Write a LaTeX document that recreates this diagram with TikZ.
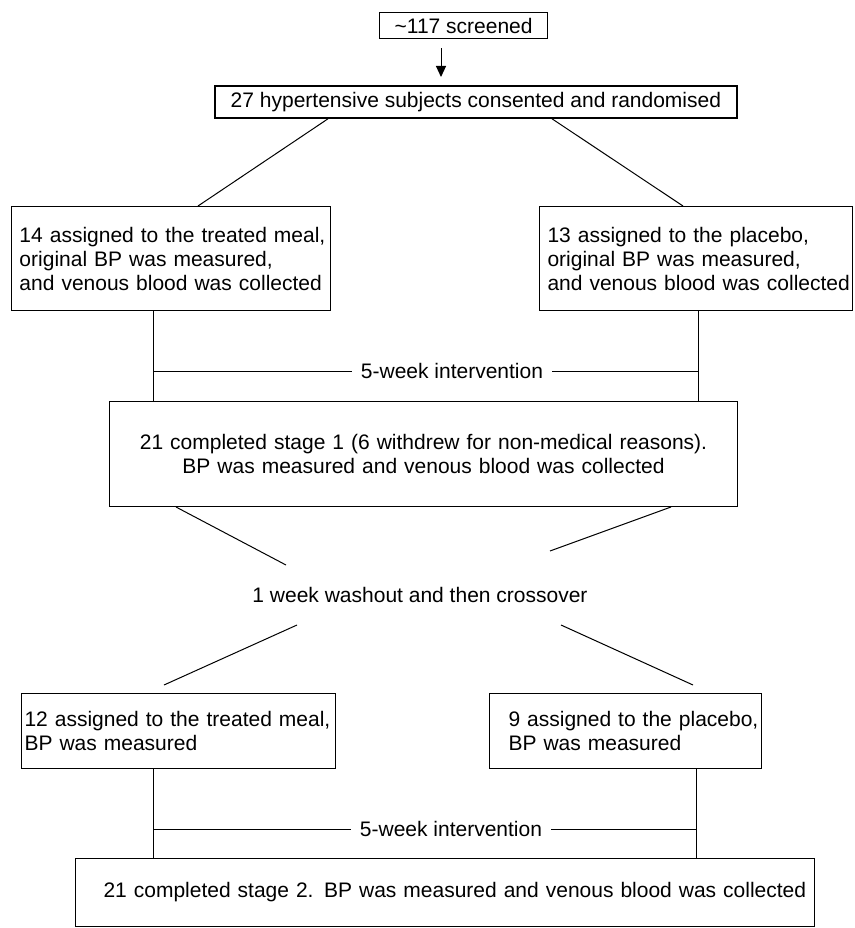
\documentclass[tikz,border=0pt]{standalone}
\usepackage{fontspec}
\setmainfont{Liberation Sans}
\usetikzlibrary{arrows.meta}
\newcommand\oneline[1]{\mbox{#1}}
\tikzset{
  box/.style={draw, line width=1pt, rectangle, anchor=north west, inner ysep=0pt},
  lbox/.style={box, align=left},
  cbox/.style={box, align=center},
  conn/.style={line width=1pt},
  lbl/.style={inner xsep=9pt, inner ysep=0pt},
}
\begin{document}
\begin{tikzpicture}[x=1pt, y=-1pt, font=\fontsize{21}{24}\selectfont]
\useasboundingbox (0,0) rectangle (854,928);

% boxes
\node[cbox, line width=1.2pt, minimum width=168pt, minimum height=26pt] (scr) at (379,12) {\textasciitilde117 screened};
\node[cbox, line width=1.8pt, minimum width=522pt, minimum height=32pt] (b27) at (214,85) {27 hypertensive subjects consented and randomised};
\node[lbox, minimum width=319pt, minimum height=104pt, inner xsep=8pt, text width=303pt] (b14) at (11,206)
  {\oneline{14 assigned to the treated meal,}\\\oneline{original BP was measured,}\\\oneline{and venous blood was collected}};
\node[lbox, minimum width=313pt, minimum height=104pt, inner xsep=8pt, text width=297pt] (b13) at (539,206)
  {\oneline{13 assigned to the placebo,}\\\oneline{original BP was measured,}\\\oneline{and venous blood was collected}};
\node[cbox, minimum width=628pt, minimum height=105pt, text width=610pt, inner xsep=9pt] (b21) at (109,401)
  {21 completed stage 1 (6 withdrew for non-medical reasons).\\BP was measured and venous blood was collected};
\node[lbox, minimum width=314pt, minimum height=75pt, inner xsep=3pt, text width=308pt] (b12) at (21,693)
  {\oneline{12 assigned to the treated meal,}\\\oneline{BP was measured}};
\node[lbox, minimum width=272pt, minimum height=75pt, inner xsep=19pt, text width=234pt] (b9) at (489,693)
  {\oneline{9 assigned to the placebo,}\\\oneline{BP was measured}};
\node[lbox, minimum width=739pt, minimum height=68pt, inner xsep=28pt, text width=683pt] (bst2) at (75,858)
  {\oneline{21 completed stage 2. BP was measured and venous blood was collected}};

% labels
\node[lbl] (iv1) at (452,371) {5-week intervention};
\node[lbl] (wo) at (420,595) {1 week washout and then crossover};
\node[lbl] (iv2) at (451,829) {5-week intervention};

% coordinates
\coordinate (xl1) at (153,0);
\coordinate (xr1) at (698,0);
\coordinate (xl2) at (153,0);
\coordinate (xr2) at (696,0);
\coordinate (d1) at (286,565);
\coordinate (d2) at (550,551);
\coordinate (d3) at (297,625);
\coordinate (d4) at (561,625);
\coordinate (d5) at (164,685);
\coordinate (d6) at (693,685);

% connectors
\draw[conn, -{Triangle[length=11pt,width=10pt]}, shorten <=9pt, shorten >=8pt]
  (441,0 |- scr.south) -- (441,0 |- b27.north);
\draw[conn] (328,0 |- b27.south) -- (198,0 |- b14.north);
\draw[conn] (552,0 |- b27.south) -- (683,0 |- b13.north);

\draw[conn] (xl1 |- b14.south) -- (xl1 |- b21.north);
\draw[conn] (xr1 |- b13.south) -- (xr1 |- b21.north);
\draw[conn] (xl1 |- iv1) -- (iv1.west);
\draw[conn] (iv1.east) -- (xr1 |- iv1);

\draw[conn] (176,0 |- b21.south) -- (d1);
\draw[conn] (671,0 |- b21.south) -- (d2);
\draw[conn] (d3) -- (d5);
\draw[conn] (d4) -- (d6);

\draw[conn] (xl2 |- b12.south) -- (xl2 |- bst2.north);
\draw[conn] (xr2 |- b9.south) -- (xr2 |- bst2.north);
\draw[conn] (xl2 |- iv2) -- (iv2.west);
\draw[conn] (iv2.east) -- (xr2 |- iv2);
\end{tikzpicture}
\end{document}
